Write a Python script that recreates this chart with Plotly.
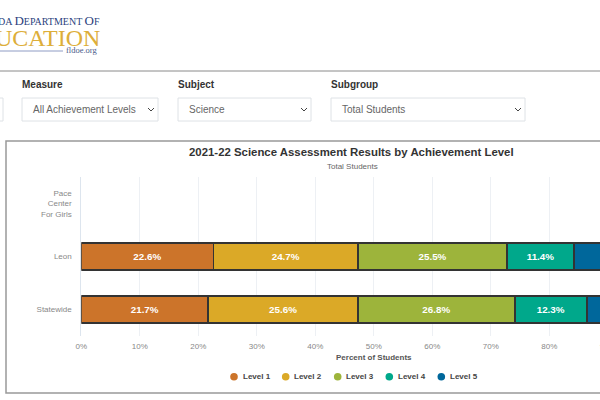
import plotly.graph_objects as go

W = 720
H = 400

schools = ["Pace<br>Center<br>For Girls", "Leon", "Statewide"]

levels = {
	"Level 1": ([None, 22.6, 21.7], "#CC742A", 234),
	"Level 2": ([None, 24.7, 25.6], "#DBA927", 285.7),
	"Level 3": ([None, 25.5, 26.8], "#9DB43B", 337.7),
	"Level 4": ([None, 11.4, 12.3], "#00A88B", 389.3),
	"Level 5": ([None, 15.8, 13.6], "#00679B", 441.3)
}

dropdowns = [
	dict(label = "", text = "", left = -120, right = 3),
	dict(label = "Measure", text = "All Achievement Levels", left = 22, right = 158),
	dict(label = "Subject", text = "Science", left = 178, right = 311),
	dict(label = "Subgroup", text = "Total Students", left = 331, right = 525)
]


fig = go.Figure()

for level in levels:

	values, color, legend_x = levels[level]

	fig.add_trace(go.Bar(x = values, y = schools, orientation = 'h', name = level,
		marker = dict(color = color, line = dict(color = '#333333', width = 1.8)),
		text = [None if v is None else str(v) + "%" for v in values],
		textposition = 'inside', insidetextanchor = 'middle', textangle = 0,
		textfont = dict(family = 'Liberation Sans', size = 9.8, color = 'white', weight = 'bold'),
		showlegend = False))

	# the legend has round markers, close to their labels
	fig.add_shape(type = 'circle', x0 = (legend_x - 3.8) / W, x1 = (legend_x + 3.8) / W, y0 = 1 - 380.5 / H, y1 = 1 - 372.9 / H, xref = 'paper', yref = 'paper',
		fillcolor = color, line = dict(width = 0))

	fig.add_annotation(text = level, x = (legend_x + 6.5) / W, y = 1 - 376.7 / H, xref = 'paper', yref = 'paper',
		xanchor = 'left', yanchor = 'middle', showarrow = False, font = dict(size = 8, color = '#444444', weight = 'bold'))


fig.update_layout(barmode = 'stack', bargap = 0.5, width = W, height = H, autosize = False,
	margin = dict(l = 0, r = 0, t = 0, b = 0), paper_bgcolor = 'white', plot_bgcolor = 'white',
	font = dict(family = 'Liberation Sans'), hovermode = False, showlegend = False)

fig.update_xaxes(domain = [81.3 / W, 666.3 / W], range = [0, 100], dtick = 10, ticksuffix = "%",
	showgrid = True, gridcolor = '#EDF0F4', gridwidth = 1, zeroline = False, showline = False,
	tickfont = dict(size = 8, color = '#888888'), ticks = '', automargin = False, ticklabelstandoff = 4,
	title = dict(text = "Percent of Students", standoff = 4, font = dict(size = 8, color = '#555555', weight = 'bold')))

fig.update_yaxes(domain = [1 - 336 / H, 1 - 177 / H], categoryorder = 'array', categoryarray = schools,
	autorange = 'reversed', showgrid = False, zeroline = False, showline = True, linecolor = '#DDE5EE',
	tickfont = dict(size = 8, color = '#888888'), ticks = '', automargin = False, ticklabelstandoff = 7)


# page header
fig.add_annotation(text = "DA <span style='font-size:13px'>D</span>EPARTMENT <span style='font-size:13px'>O</span>F", x = 102 / W, y = 1 - 21 / H, xref = 'paper', yref = 'paper',
	xanchor = 'right', yanchor = 'middle', showarrow = False, font = dict(family = 'Liberation Serif', size = 10, color = '#2B3F7E'))

fig.add_annotation(text = "UCATION", x = 102 / W, y = 1 - 38 / H, xref = 'paper', yref = 'paper',
	xanchor = 'right', yanchor = 'middle', showarrow = False, font = dict(family = 'Liberation Serif', size = 24, color = '#DDAE3A'))

fig.add_annotation(text = "fldoe.org", x = 100 / W, y = 1 - 50 / H, xref = 'paper', yref = 'paper',
	xanchor = 'right', yanchor = 'middle', showarrow = False, font = dict(family = 'Liberation Serif', size = 8.5, color = '#4A5A8A'))

fig.add_shape(type = 'line', x0 = 0, x1 = 63 / W, y0 = 1 - 51 / H, y1 = 1 - 51 / H, xref = 'paper', yref = 'paper',
	line = dict(color = '#8F9CC4', width = 1))

fig.add_shape(type = 'line', x0 = 0, x1 = 1, y0 = 1 - 71 / H, y1 = 1 - 71 / H, xref = 'paper', yref = 'paper',
	line = dict(color = '#8A8A8A', width = 1))


for d in dropdowns:

	fig.add_shape(type = 'rect', x0 = d["left"] / W, x1 = d["right"] / W, y0 = 1 - 121 / H, y1 = 1 - 98 / H, xref = 'paper', yref = 'paper',
		line = dict(color = '#DEE2E6', width = 1), fillcolor = 'white')

	if d["label"]:

		fig.add_annotation(text = d["label"], x = (d["left"] - 2) / W, y = 1 - 84.5 / H, xref = 'paper', yref = 'paper',
			xanchor = 'left', yanchor = 'middle', showarrow = False, font = dict(size = 10, color = '#333333', weight = 'bold'))

		fig.add_annotation(text = d["text"], x = (d["left"] + 9) / W, y = 1 - 109.5 / H, xref = 'paper', yref = 'paper',
			xanchor = 'left', yanchor = 'middle', showarrow = False, font = dict(size = 10, color = '#666666'))

		chevron_x = d["right"] - 7

		fig.add_shape(type = 'path', xref = 'paper', yref = 'paper', line = dict(color = '#444444', width = 1),
			path = "M {} {} L {} {} L {} {}".format((chevron_x - 3) / W, 1 - 108 / H, chevron_x / W, 1 - 111 / H, (chevron_x + 3) / W, 1 - 108 / H))


# chart box
fig.add_shape(type = 'rect', x0 = 6 / W, x1 = 696 / W, y0 = 1 - 393 / H, y1 = 1 - 141 / H, xref = 'paper', yref = 'paper',
	line = dict(color = '#999999', width = 1.5), layer = 'below')

fig.add_annotation(text = "2021-22 Science Assessment Results by Achievement Level", x = 351.5 / W, y = 1 - 152 / H, xref = 'paper', yref = 'paper',
	xanchor = 'center', yanchor = 'middle', showarrow = False, font = dict(size = 11.4, color = '#333333', weight = 'bold'))

fig.add_annotation(text = "Total Students", x = 352 / W, y = 1 - 166 / H, xref = 'paper', yref = 'paper',
	xanchor = 'center', yanchor = 'middle', showarrow = False, font = dict(size = 8, color = '#666666'))


fig.write_html("out.html", config = dict(displayModeBar = False), post_script = "document.body.style.margin = '0'; document.body.style.overflow = 'hidden';")
